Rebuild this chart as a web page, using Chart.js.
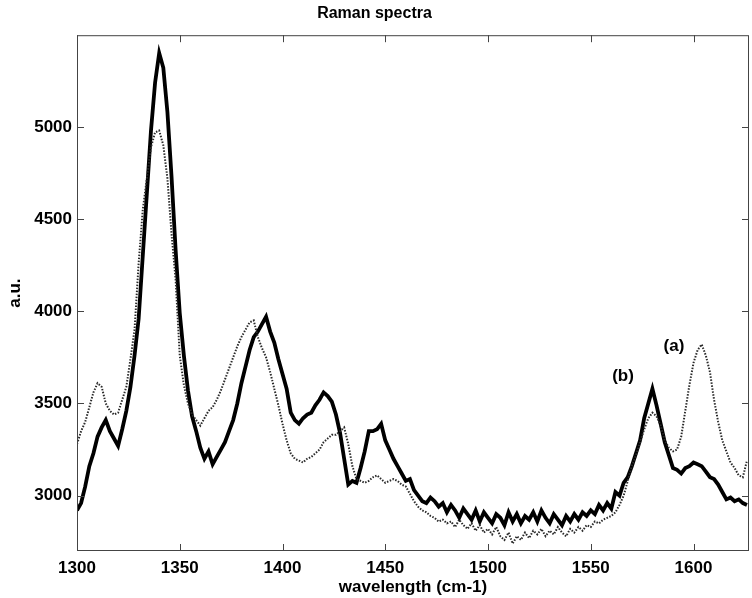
<!DOCTYPE html>
<html>
<head>
<meta charset="utf-8">
<title>Raman spectra</title>
<script src="https://cdn.jsdelivr.net/npm/chart.js@4/dist/chart.umd.min.js"></script>
<style>
  html, body { margin: 0; padding: 0; background: #fff; }
  canvas { display: block; }
</style>
</head>
<body>
<canvas id="ramanChart" width="752" height="598"></canvas>
<script>
// wavenumber samples (cm-1)
const wavenumber = [
  1300,1302,1304,1306,1308,1310,1312,1314,1316,1318,1320,1322,1324,1326,1328,1330,1332,1334,1336,1338,
  1340,1342,1344,1346,1348,1350,1352,1354,1356,1358,1360,1362,1364,1366,1368,1370,1372,1374,1376,1378,
  1380,1382,1384,1386,1388,1390,1392,1394,1396,1398,1400,1402,1404,1406,1408,1410,1412,1414,1416,1418,
  1420,1422,1424,1426,1428,1430,1432,1434,1436,1438,1440,1442,1444,1446,1448,1450,1452,1454,1456,1458,
  1460,1462,1464,1466,1468,1470,1472,1474,1476,1478,1480,1482,1484,1486,1488,1490,1492,1494,1496,1498,
  1500,1502,1504,1506,1508,1510,1512,1514,1516,1518,1520,1522,1524,1526,1528,1530,1532,1534,1536,1538,
  1540,1542,1544,1546,1548,1550,1552,1554,1556,1558,1560,1562,1564,1566,1568,1570,1572,1574,1576,1578,
  1580,1582,1584,1586,1588,1590,1592,1594,1596,1598,1600,1602,1604,1606,1608,1610,1612,1614,1616,1618,
  1620,1622,1624,1626
];

// spectrum (a), dotted
const spectrumA = [
  3280,3350,3400,3480,3560,3610,3590,3500,3460,3440,3450,3520,3590,3740,3900,4260,4550,4720,4890,4970,
  4980,4900,4720,4420,4170,3760,3600,3500,3440,3410,3380,3420,3460,3480,3520,3570,3630,3690,3750,3810,
  3860,3900,3940,3950,3860,3800,3750,3670,3580,3490,3390,3300,3230,3200,3190,3180,3200,3210,3230,3250,
  3290,3310,3330,3330,3350,3370,3280,3160,3090,3080,3070,3080,3100,3110,3090,3070,3080,3090,3080,3060,
  3050,3010,2970,2940,2920,2910,2890,2880,2860,2870,2850,2860,2830,2870,2840,2820,2850,2810,2840,2800,
  2820,2790,2830,2780,2760,2800,2740,2780,2760,2800,2770,2810,2790,2820,2780,2810,2790,2830,2800,2780,
  2820,2800,2830,2810,2840,2830,2860,2850,2870,2880,2890,2910,2950,3000,3080,3160,3220,3290,3360,3420,
  3450,3430,3380,3300,3260,3240,3250,3320,3460,3600,3720,3790,3820,3760,3670,3520,3400,3300,3240,3180,
  3150,3110,3100,3190
];

// spectrum (b), solid
const spectrumB = [
  2920,2960,3050,3160,3230,3320,3370,3410,3350,3310,3270,3360,3460,3590,3760,3960,4300,4640,4980,5240,
  5400,5320,5080,4730,4330,3990,3760,3570,3430,3350,3260,3200,3240,3170,3210,3250,3290,3350,3410,3500,
  3610,3700,3790,3860,3890,3930,3970,3890,3830,3740,3660,3580,3450,3410,3390,3420,3440,3450,3490,3520,
  3560,3540,3510,3440,3340,3200,3060,3080,3070,3150,3240,3350,3350,3360,3390,3300,3250,3200,3160,3120,
  3080,3090,3030,3000,2970,2960,2990,2970,2940,2960,2910,2950,2920,2880,2930,2900,2870,2920,2860,2910,
  2880,2850,2900,2880,2840,2910,2860,2900,2850,2890,2870,2910,2860,2920,2880,2850,2900,2870,2840,2890,
  2860,2900,2870,2910,2890,2920,2900,2950,2920,2960,2930,3020,3000,3070,3100,3160,3230,3300,3420,3500,
  3580,3490,3390,3290,3220,3150,3140,3120,3150,3160,3180,3170,3160,3130,3100,3090,3060,3020,2980,2990,
  2970,2980,2960,2950
];

const xTicks = [1300, 1350, 1400, 1450, 1500, 1550, 1600];
const yTicks = [3000, 3500, 4000, 4500, 5000];

// curve labels, anchored in data units
const curveLabels = ["(a)", "(b)"];
const curveLabelX = [1590.5, 1565.7];
const curveLabelY = [3810, 3646];

const FONT = "Arial, 'Liberation Sans', sans-serif";

// MATLAB style box with inward ticks, plus the (a)/(b) labels
const matlabBox = {
  id: "matlabBox",
  afterDraw(chart) {
    const ctx = chart.ctx;
    const a = chart.chartArea;
    const xs = chart.scales.x;
    const ys = chart.scales.y;
    const len = 7;
    ctx.save();
    ctx.strokeStyle = "#444";
    ctx.lineWidth = 1;
    ctx.strokeRect(a.left + 0.5, a.top + 0.5, a.right - a.left - 1, a.bottom - a.top - 1);
    ctx.beginPath();
    xTicks.forEach(v => {
      const px = Math.round(xs.getPixelForValue(v)) + 0.5;
      ctx.moveTo(px, a.bottom);
      ctx.lineTo(px, a.bottom - len);
      ctx.moveTo(px, a.top);
      ctx.lineTo(px, a.top + len);
    });
    yTicks.forEach(v => {
      const py = Math.round(ys.getPixelForValue(v)) + 0.5;
      ctx.moveTo(a.left, py);
      ctx.lineTo(a.left + len, py);
      ctx.moveTo(a.right, py);
      ctx.lineTo(a.right - len, py);
    });
    ctx.stroke();

    ctx.fillStyle = "#000";
    ctx.font = "bold 17px " + FONT;
    ctx.textAlign = "center";
    ctx.textBaseline = "middle";
    curveLabels.forEach((t, i) => {
      ctx.fillText(t, xs.getPixelForValue(curveLabelX[i]), ys.getPixelForValue(curveLabelY[i]));
    });
    ctx.restore();
  }
};

const toPoints = (xv, yv) => xv.map((x, i) => ({ x: x, y: yv[i] }));

new Chart(document.getElementById("ramanChart"), {
  type: "line",
  data: {
    datasets: [
      {
        label: "(a)",
        data: toPoints(wavenumber, spectrumA),
        borderColor: "#2a2a2a",
        borderWidth: 2,
        borderDash: [1.5, 1.5],
        pointRadius: 0,
        tension: 0,
        fill: false
      },
      {
        label: "(b)",
        data: toPoints(wavenumber, spectrumB),
        borderColor: "#000",
        borderWidth: 3.8,
        pointRadius: 0,
        tension: 0,
        fill: false
      }
    ]
  },
  options: {
    responsive: false,
    animation: false,
    layout: { padding: { left: 0, right: 3, top: 0, bottom: 0 } },
    plugins: {
      legend: { display: false },
      tooltip: { enabled: false },
      title: {
        display: true,
        text: "Raman spectra",
        color: "#000",
        font: { family: FONT, size: 16, weight: "bold" },
        padding: { top: 4, bottom: 12 }
      }
    },
    scales: {
      x: {
        type: "linear",
        min: 1300,
        max: 1627,
        afterBuildTicks: s => { s.ticks = xTicks.map(v => ({ value: v })); },
        afterFit: s => { s.height = 47; },
        grid: { display: false, drawTicks: false },
        border: { display: false },
        ticks: {
          color: "#000",
          padding: 7,
          maxRotation: 0,
          font: { family: FONT, size: 17, weight: "bold" },
          callback: v => String(v)
        },
        title: {
          display: true,
          text: "wavelength (cm-1)",
          color: "#000",
          font: { family: FONT, size: 17, weight: "bold" },
          padding: { top: 0, bottom: 0 }
        }
      },
      y: {
        min: 2700,
        max: 5497,
        afterBuildTicks: s => { s.ticks = yTicks.map(v => ({ value: v })); },
        afterFit: s => { s.width = 77; },
        grid: { display: false, drawTicks: false },
        border: { display: false },
        ticks: {
          color: "#000",
          padding: 5,
          font: { family: FONT, size: 17, weight: "bold" },
          callback: v => String(v)
        },
        title: {
          display: true,
          text: "a.u.",
          color: "#000",
          font: { family: FONT, size: 17, weight: "bold" },
          padding: { top: 5, bottom: 0 }
        }
      }
    }
  },
  plugins: [matlabBox]
});
</script>
</body>
</html>
